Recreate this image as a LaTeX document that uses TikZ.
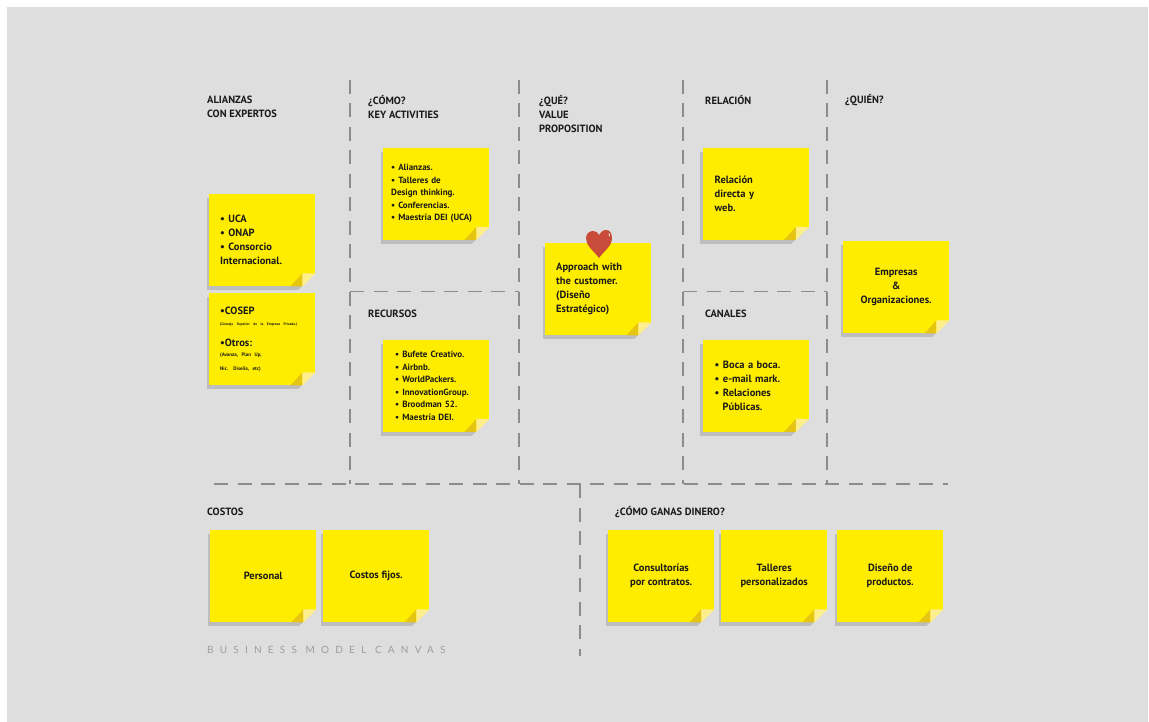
\documentclass[tikz,border=0pt]{standalone}
\usepackage{fontspec}
\setmainfont{PT Sans}
\newfontfamily\canvasfont[LetterSpace=62]{Lato}
\definecolor{notegray}{HTML}{DEDEDE}
\definecolor{noteyellow}{HTML}{FFED00}
\definecolor{foldlight}{HTML}{FFEE8E}
\definecolor{folddark}{HTML}{E6C412}
\definecolor{noteshadow}{HTML}{BDBDBD}
\definecolor{dashgray}{HTML}{8C8C8C}
\definecolor{inkblack}{HTML}{1A1A1A}
\definecolor{heartred}{HTML}{C94B3A}
\tikzset{
  heading/.style={anchor=west, align=left, inner sep=0pt, text=inkblack, font=\fontsize{10.5}{14}\selectfont\bfseries},
  note/.style={anchor=north west, fill=noteyellow, minimum width=106pt, minimum height=92pt, inner ysep=0pt, inner xsep=0pt, text=inkblack, align=center, font=\fontsize{10.5}{14}\selectfont\bfseries,
    preaction={fill=noteshadow, transform canvas={shift={(-2.5pt,-4pt)}}}},
  listnote/.style={note, align=left, inner xsep=#1pt, text width=\dimexpr106pt-#1pt-#1pt\relax},
  small/.style={font=\fontsize{9}{12.5}\selectfont\bfseries},
  divider/.style={draw=dashgray, line width=1.8pt, dash pattern=on 14pt off 9.5pt},
}
% corner of a note
\newcommand{\notefold}[1]{
  \fill[notegray] ([yshift=13pt]#1.south east) -- ([xshift=-18pt,yshift=-4.5pt]#1.south east) -- ([xshift=1pt,yshift=-4.5pt]#1.south east) -- ([xshift=1pt,yshift=13pt]#1.south east) -- cycle;
  \fill[folddark] ([xshift=-25pt]#1.south east) -- ([xshift=-13pt,yshift=13pt]#1.south east) -- ([xshift=-13pt]#1.south east) -- cycle;
  \fill[foldlight] ([yshift=13pt]#1.south east) -- ([xshift=-13pt,yshift=13pt]#1.south east) -- ([xshift=-13pt]#1.south east) -- cycle;
}
\begin{document}
\begin{tikzpicture}[x=1pt, y=-1pt]
  \useasboundingbox (0,0) rectangle (1149,722);
  \fill[white] (0,0) rectangle (1149,722);
  \fill[notegray] (7,7) rectangle (1148,722);

  % lineas
  \draw[divider] (350,80) -- (350,484);
  \draw[divider] (519,80) -- (519,484);
  \draw[divider] (683,80) -- (683,484);
  \draw[divider] (827,80) -- (827,484);
  \draw[divider] (350,291.5) -- (519,291.5);
  \draw[divider] (683,291.5) -- (827,291.5);
  \draw[divider] (214,484) -- (948,484);
  \draw[divider] (580,484) -- (580,656);

  % titulos
  \node[heading] (alianzas) at (207,107) {ALIANZAS\\CON EXPERTOS};
  \node[heading] (como) at (368,107) {¿CÓMO?\\KEY ACTIVITIES};
  \node[heading] (que) at (539,114) {¿QUÉ?\\VALUE\\PROPOSITION};
  \node[heading] (relacion) at (705,100) {RELACIÓN};
  \node[heading] (quien) at (845,100) {¿QUIÉN?};
  \node[heading] (recursos) at (368,314) {RECURSOS};
  \node[heading] (canales) at (705,314) {CANALES};
  \node[heading] (costos) at (207,512) {COSTOS};
  \node[heading] (ganas) at (615,512) {¿CÓMO GANAS DINERO?};

  % notas
  \node[listnote=11] (uca) at (209,194) {• UCA\\• ONAP\\• Consorcio\\Internacional.};
  \node[listnote=11] (cosep) at (209,293) {•COSEP\\[-3pt]
    {\fontsize{3.6}{4}\selectfont (Consejo Superior de la Empresa Privada.)}\\[7pt]
    •Otros:\\[3pt]
    {\fontsize{5}{7}\selectfont (Avanza, Plan Up,\\Nic. Diseña, etc)}};
  \node[listnote=8, small] (activities) at (383,147.5) {• Alianzas.\\• Talleres de\\Design thinking.\\• Conferencias.\\• Maestría DEI (UCA)\\[8pt]};
  \node[listnote=12, small] (bufete) at (383,339.5) {• Bufete Creativo.\\• Airbnb.\\• WorldPackers.\\• InnovationGroup.\\• Broodman 52.\\• Maestría DEI.\\[6pt]};
  \node[listnote=11] (approach) at (545,243) {Approach with\\the customer.\\(Diseño\\Estratégico)};
  \node[listnote=12] (directa) at (702.5,147.5) {Relación\\directa y\\web.};
  \node[listnote=12] (boca) at (702.5,339.5) {• Boca a boca.\\• e-mail mark.\\• Relaciones\\\hspace*{8pt}Públicas.};
  \node[note] (empresas) at (843,241) {Empresas\\\&\\Organizaciones.};
  \node[note] (personal) at (210,530) {Personal};
  \node[note] (fijos) at (323,530) {Costos fijos.};
  \node[note] (consultorias) at (608,530) {Consultorías\\por contratos.};
  \node[note] (talleres) at (721,530) {Talleres\\personalizados};
  \node[note] (productos) at (837,530) {Diseño de\\productos.};

  \notefold{uca}
  \notefold{cosep}
  \notefold{activities}
  \notefold{bufete}
  \notefold{approach}
  \notefold{directa}
  \notefold{boca}
  \notefold{empresas}
  \notefold{personal}
  \notefold{fijos}
  \notefold{consultorias}
  \notefold{talleres}
  \notefold{productos}

  % corazon
  \fill[heartred] (599,258) .. controls (594,251) and (586,246) .. (586,238.5) .. controls (586,233) and (590,231) .. (593,231) .. controls (596,231) and (598,232.5) .. (599,235) .. controls (600,232.5) and (603,230) .. (606,230) .. controls (610,230) and (612,233.5) .. (612,238) .. controls (612,246) and (604,251) .. (599,258) -- cycle;
  \draw[white, line width=0.7pt, line cap=round] (609,233.5) -- (609.5,236);

  \node[anchor=west, inner sep=0pt, text=black!38, font=\canvasfont\fontsize{10}{12}\selectfont] (canvas) at (207,650) {BUSINESS MODEL CANVAS};
\end{tikzpicture}
\end{document}
